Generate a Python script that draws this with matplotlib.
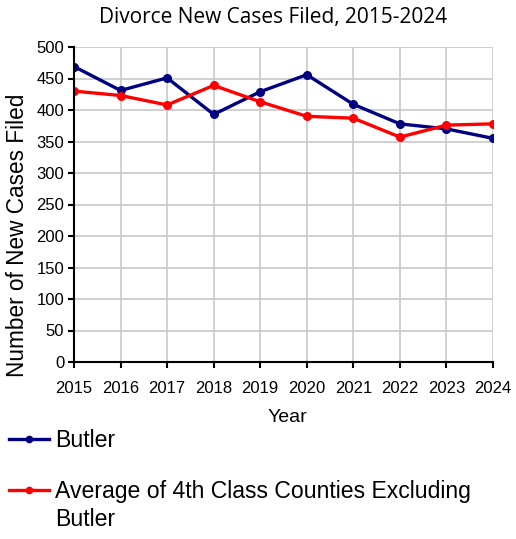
import matplotlib
matplotlib.use('Agg')
import matplotlib.pyplot as plt
from matplotlib.lines import Line2D
import numpy as np

years = [2015, 2016, 2017, 2018, 2019, 2020, 2021, 2022, 2023, 2024]
butler = [469, 431, 451, 393, 429, 456, 409, 378, 370, 355]
avg_4th_class = [430, 423, 408, 439, 413, 390, 387, 357, 376, 378]
labels = ['Butler', 'Average of 4th Class Counties Excluding\nButler']
colors = ['#000080', '#FF0000']

plt.rcParams['font.family'] = ['Liberation Sans', 'DejaVu Sans']

fig = plt.figure(figsize=(5.16, 5.39), dpi=100)
W, H = 516, 539
ax = fig.add_axes([74 / W, 1 - 362 / H, (493 - 74) / W, (362 - 47) / H])

for vals, c, lab in zip([butler, avg_4th_class], colors, labels):
    ax.plot(years, vals, color=c, lw=2.4, marker='o', ms=5.5, label=lab, zorder=3)

ax.set_xlim(2015, 2024)
ax.set_ylim(0, 500)
ax.set_xticks(years)
ax.set_yticks(np.arange(0, 501, 50))
ax.grid(True, color='#C8C8C8', lw=1.2)
ax.set_axisbelow(True)
for s in ['top', 'right']:
    ax.spines[s].set_visible(False)
for s in ['left', 'bottom']:
    ax.spines[s].set_linewidth(1.5)
    ax.spines[s].set_zorder(4)
ax.tick_params(axis='x', direction='out', length=4, width=1.5, pad=10, labelsize=12)
ax.tick_params(axis='y', direction='out', length=4, width=1.5, pad=3, labelsize=12)
for t in ax.get_xticklabels():
    t.set_clip_on(False)

fig.text(273 / W, 1 - 18 / H, 'Divorce New Cases Filed, 2015-2024',
         ha='center', va='center', fontsize=15, family=['Open Sans', 'DejaVu Sans'])
fig.text(18 / W, 1 - 235 / H, 'Number of New Cases Filed', rotation=90,
         ha='center', va='center', fontsize=16.3)
fig.text(287 / W, 1 - 418 / H, 'Year', ha='center', va='center', fontsize=14)

# legend below the plot, drawn by hand so the handle sits on the first text line
legend_y = [439, 490]
for y, c, lab in zip(legend_y, colors, labels):
    fig.add_artist(Line2D([9 / W, 49 / W], [1 - y / H, 1 - y / H], color=c, lw=2.4,
                          transform=fig.transFigure))
    fig.add_artist(Line2D([29 / W], [1 - y / H], color=c, marker='o', ms=4.5,
                          transform=fig.transFigure))
    fig.text(55 / W, 1 - (y - 10) / H, lab, ha='left', va='top', fontsize=16.6,
             linespacing=1.25)

fig.savefig('out.png', dpi=100)
